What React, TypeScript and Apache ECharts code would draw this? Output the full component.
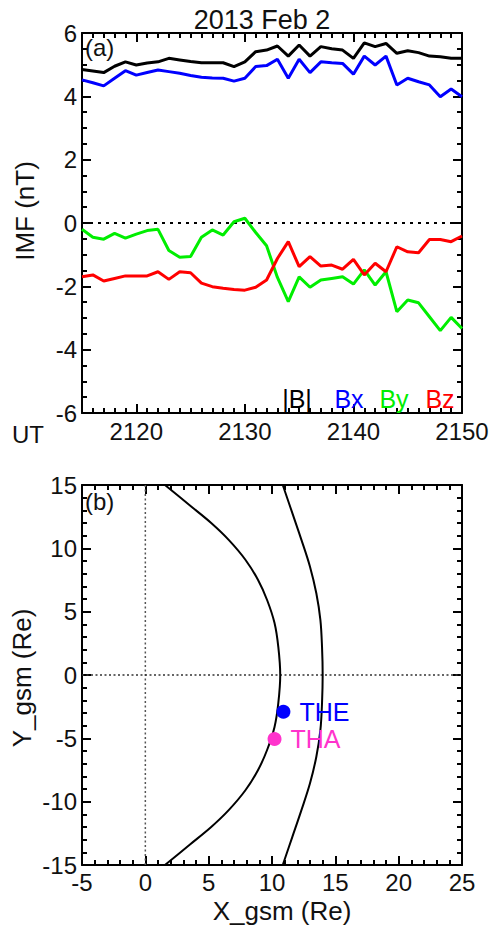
import React, { useEffect, useRef } from "react";
import * as echarts from "echarts";

// ---------- Panel (a): IMF data, one sample per minute ----------
const utMinutes = [
  2115, 2116, 2117, 2118, 2119, 2120, 2121, 2122, 2123, 2124, 2125, 2126,
  2127, 2128, 2129, 2130, 2131, 2132, 2133, 2134, 2135, 2136, 2137, 2138,
  2139, 2140, 2141, 2142, 2143, 2144, 2145, 2146, 2147, 2148, 2149, 2150,
];
const bTotal = [
  4.85, 4.8, 4.75, 4.95, 5.09, 4.99, 5.05, 5.09, 5.2, 5.15, 5.1, 5.06,
  5.06, 5.06, 4.94, 5.09, 5.41, 5.46, 5.59, 5.27, 5.62, 5.27, 5.57, 5.5,
  5.46, 5.2, 5.69, 5.57, 5.67, 5.36, 5.44, 5.38, 5.27, 5.25, 5.2, 5.2,
];
const bx = [
  4.52, 4.43, 4.33, 4.57, 4.81, 4.67, 4.75, 4.83, 4.78, 4.73, 4.66, 4.6,
  4.58, 4.57, 4.48, 4.57, 4.94, 4.97, 5.17, 4.57, 5.17, 4.75, 5.09, 5.06,
  5.04, 4.7, 5.27, 4.99, 5.27, 4.36, 4.57, 4.46, 4.36, 3.99, 4.23, 3.99,
];
const by = [
  -0.2, -0.45, -0.51, -0.33, -0.48, -0.35, -0.24, -0.2, -0.87, -1.08, -1.06, -0.45,
  -0.22, -0.38, 0.04, 0.15, -0.3, -0.72, -1.72, -2.48, -1.7, -2.03, -1.8, -1.75,
  -1.7, -1.93, -1.48, -1.96, -1.54, -2.8, -2.43, -2.52, -2.96, -3.4, -2.98, -3.33,
];
const bz = [
  -1.7, -1.64, -1.83, -1.75, -1.67, -1.67, -1.67, -1.54, -1.78, -1.54, -1.57, -1.9,
  -2.01, -2.06, -2.1, -2.12, -2.03, -1.8, -1.12, -0.59, -1.38, -1.06, -1.36, -1.33,
  -1.46, -1.15, -1.64, -1.27, -1.54, -0.75, -0.91, -0.94, -0.52, -0.52, -0.59, -0.41,
];
const utMajorTicks = [2120, 2130, 2140, 2150];
const imfLegend = [
  { text: "|B|", color: "#000000" },
  { text: "Bx", color: "#0000FF" },
  { text: "By", color: "#00EE00" },
  { text: "Bz", color: "#FF0000" },
];

// ---------- Panel (b): boundaries and spacecraft ----------
const innerBoundaryX = [1.55, 3.5, 5.2, 6.6, 7.9, 8.9, 9.62, 10.2, 10.5, 10.65, 10.5, 10.2, 9.62, 8.9, 7.9, 6.6, 5.2, 3.5, 1.55];
const innerBoundaryY = [15, 13.4, 12.0, 10.65, 9.1, 7.5, 5.9, 4.1, 2.2, 0, -2.2, -4.1, -5.9, -7.5, -9.1, -10.65, -12.0, -13.4, -15];
const outerBoundaryX = [10.85, 11.6, 12.33, 13.0, 13.5, 13.82, 13.95, 14.0, 13.95, 13.82, 13.5, 13.0, 12.33, 11.6, 10.85];
const outerBoundaryY = [15, 12.8, 10.65, 8.55, 6.45, 4.35, 2.2, 0, -2.2, -4.35, -6.45, -8.55, -10.65, -12.8, -15];
const craftNames = ["THE", "THA"];
const craftX = [10.9, 10.2];
const craftY = [-2.9, -5.05];
const craftColors = ["#0000FF", "#FF33CC"];

const FONT = "'Liberation Sans', Arial, Helvetica, sans-serif";
const TXT = "#111111";
const FRAME = "#000000";

export default function App() {
  const ref = useRef<HTMLDivElement>(null);

  useEffect(() => {
    if (!ref.current) return;
    const chart = echarts.init(ref.current, null, { renderer: "svg" });

    const line = () => ({ show: true, onZero: false, lineStyle: { color: FRAME, width: 2 } });
    const noLine = () => ({ show: false, onZero: false });
    const major = (extra: any = {}) => ({ show: true, inside: true, length: 9, lineStyle: { color: FRAME, width: 2 }, ...extra });
    const minor = (n: number) => ({ show: true, splitNumber: n, length: 5, lineStyle: { color: FRAME, width: 2 } });
    const label = { fontSize: 24, fontFamily: FONT, color: TXT, formatter: (v: number) => String(v) };

    const xAxes: any[] = [
      {
        gridIndex: 0, type: "value", position: "bottom", min: 2115, max: 2150, interval: 5,
        axisLine: line(),
        axisTick: major({ customValues: utMajorTicks }),
        axisLabel: {
          ...label, margin: 6, customValues: utMajorTicks, showMinLabel: true, showMaxLabel: true,
          formatter: (v: number) => (v % 10 === 0 ? String(v) : ""),
        },
        splitLine: { show: false },
      },
      {
        gridIndex: 0, type: "value", position: "bottom", min: 2115, max: 2150, interval: 1,
        axisLine: noLine(),
        axisTick: major({ length: 5 }),
        axisLabel: { show: false }, splitLine: { show: false },
      },
      {
        gridIndex: 0, type: "value", position: "top", min: 2115, max: 2150, interval: 5,
        axisLine: line(),
        axisTick: major({ customValues: utMajorTicks }),
        axisLabel: { show: false }, splitLine: { show: false },
      },
      {
        gridIndex: 0, type: "value", position: "top", min: 2115, max: 2150, interval: 1,
        axisLine: noLine(),
        axisTick: major({ length: 5 }),
        axisLabel: { show: false }, splitLine: { show: false },
      },
      {
        gridIndex: 1, type: "value", position: "bottom", min: -5, max: 25, interval: 5,
        axisLine: line(),
        axisTick: major(),
        minorTick: minor(5),
        axisLabel: { ...label, margin: 5, showMinLabel: true, showMaxLabel: true },
        splitLine: { show: false },
      },
      {
        gridIndex: 1, type: "value", position: "top", min: -5, max: 25, interval: 5,
        axisLine: line(),
        axisTick: major(),
        minorTick: minor(5),
        axisLabel: { show: false }, splitLine: { show: false },
      },
    ];

    const yAxes: any[] = [
      {
        gridIndex: 0, type: "value", position: "left", min: -6, max: 6, interval: 2,
        axisLine: line(),
        axisTick: major(),
        minorTick: minor(4),
        axisLabel: { ...label, margin: 5, showMinLabel: true, showMaxLabel: true },
        splitLine: { show: false },
      },
      {
        gridIndex: 0, type: "value", position: "right", min: -6, max: 6, interval: 2,
        axisLine: line(),
        axisTick: major(),
        minorTick: minor(4),
        axisLabel: { show: false }, splitLine: { show: false },
      },
      {
        gridIndex: 1, type: "value", position: "left", min: -15, max: 15, interval: 5,
        axisLine: line(),
        axisTick: major(),
        minorTick: minor(5),
        axisLabel: { ...label, margin: 5, showMinLabel: true, showMaxLabel: true },
        splitLine: { show: false },
      },
      {
        gridIndex: 1, type: "value", position: "right", min: -15, max: 15, interval: 5,
        axisLine: line(),
        axisTick: major(),
        minorTick: minor(5),
        axisLabel: { show: false }, splitLine: { show: false },
      },
    ];

    const imfLine = (values: number[], color: string, name: string) => ({
      name,
      type: "line",
      xAxisIndex: 0,
      yAxisIndex: 0,
      data: utMinutes.map((t, i) => [t, values[i]]),
      symbol: "none",
      lineStyle: { color, width: 3 },
      z: 3,
    });

    const series: any[] = [
      {
        type: "line", xAxisIndex: 0, yAxisIndex: 0, symbol: "none",
        data: [[utMinutes[0], 0], [utMinutes[utMinutes.length - 1], 0]],
        lineStyle: { color: "#000", width: 2, type: [3, 5] }, z: 2,
      },
      imfLine(bTotal, imfLegend[0].color, "|B|"),
      imfLine(bx, imfLegend[1].color, "Bx"),
      imfLine(by, imfLegend[2].color, "By"),
      imfLine(bz, imfLegend[3].color, "Bz"),
      {
        type: "line", xAxisIndex: 4, yAxisIndex: 2, symbol: "none",
        data: [[0, -15], [0, 15]],
        lineStyle: { color: "#555", width: 1.5, type: [2, 2.5] }, z: 2,
      },
      {
        type: "line", xAxisIndex: 4, yAxisIndex: 2, symbol: "none",
        data: [[-5, 0], [25, 0]],
        lineStyle: { color: "#333", width: 1.5, type: [2, 2.5] }, z: 2,
      },
      {
        type: "line", xAxisIndex: 4, yAxisIndex: 2, symbol: "none", smooth: 0.35,
        data: innerBoundaryX.map((x, i) => [x, innerBoundaryY[i]]),
        lineStyle: { color: "#000", width: 2 }, z: 3,
      },
      {
        type: "line", xAxisIndex: 4, yAxisIndex: 2, symbol: "none", smooth: 0.35,
        data: outerBoundaryX.map((x, i) => [x, outerBoundaryY[i]]),
        lineStyle: { color: "#000", width: 2 }, z: 3,
      },
      {
        type: "scatter", xAxisIndex: 4, yAxisIndex: 2, symbol: "circle", symbolSize: 14, z: 4,
        data: craftNames.map((n, i) => ({
          name: n,
          value: [craftX[i], craftY[i]],
          itemStyle: { color: craftColors[i], opacity: 1 },
          label: {
            show: true, position: "right", distance: 9, formatter: n, opacity: 1,
            color: craftColors[i], fontSize: 25, fontFamily: FONT,
          },
        })),
      },
    ];

    const text = (t: string, x: number, y: number, extra: any = {}) => ({
      type: "text",
      x, y,
      style: {
        text: t, fontSize: 26, fontFamily: FONT, fill: TXT,
        textAlign: "center", textVerticalAlign: "middle", align: "center", verticalAlign: "middle",
        ...(extra.style || {}),
      },
      ...(extra.rotation !== undefined ? { rotation: extra.rotation } : {}),
      z: 10,
    });

    const legendX = [297, 349, 394, 440];

    const graphic: any[] = [
      text("2013 Feb 2", 262, 20, { style: { fontSize: 27 } }),
      text("IMF (nT)", 25, 211, { rotation: Math.PI / 2 }),
      text("UT", 12, 434, { style: { textAlign: "left", align: "left", fontSize: 24 } }),
      text("(a)", 85, 47, { style: { textAlign: "left", align: "left", fontSize: 24 } }),
      text("(b)", 85, 501, { style: { textAlign: "left", align: "left", fontSize: 24 } }),
      text("Y_gsm (Re)", 22, 678, { rotation: Math.PI / 2 }),
      text("X_gsm (Re)", 282, 911),
      ...imfLegend.map((l, i) => text(l.text, legendX[i], 399, { style: { fill: l.color, fontSize: 25 } })),
    ];

    chart.setOption({
      animation: false,
      backgroundColor: "#ffffff",
      grid: [
        { left: 82, top: 33, width: 380, height: 380 },
        { left: 82, top: 485, width: 380, height: 380 },
      ],
      xAxis: xAxes,
      yAxis: yAxes,
      series,
      graphic,
    });

    return () => chart.dispose();
  }, []);

  return (
    <div
      ref={ref}
      style={{ position: "fixed", left: 0, top: 0, width: 494, height: 932, background: "#fff" }}
    />
  );
}
